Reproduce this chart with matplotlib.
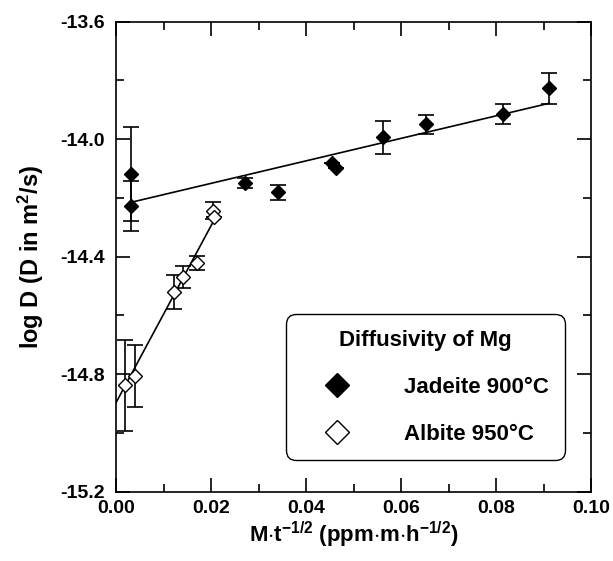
import numpy as np
import matplotlib
matplotlib.use("Agg")
import matplotlib.pyplot as plt
from matplotlib.lines import Line2D
from matplotlib.ticker import MultipleLocator, FormatStrFormatter

# Jadeite 900C (filled diamonds)
jad_x = [0.0032, 0.0032, 0.0272, 0.0340, 0.0454, 0.0463, 0.0563, 0.0653, 0.0815, 0.0912]
jad_y = [-14.119, -14.226, -14.150, -14.181, -14.082, -14.099, -13.994, -13.949, -13.914, -13.827]
jad_err = [0.160, 0.085, 0.017, 0.025, 0.0, 0.0, 0.057, 0.032, 0.035, 0.054]

# Albite 950C (open diamonds)
alb_x = [0.0019, 0.0039, 0.0122, 0.0140, 0.0171, 0.0204, 0.0206]
alb_y = [-14.838, -14.807, -14.520, -14.468, -14.422, -14.243, -14.264]
alb_err = [0.155, 0.105, 0.059, 0.037, 0.024, 0.030, 0.0]

# fitted lines: slope, intercept, x range
jad_fit = (3.83, -14.227, 0.0029, 0.0912)
alb_fit = (30.1, -14.897, 0.0, 0.0204)

plt.rcParams['font.family'] = ['Liberation Sans', 'DejaVu Sans']
plt.rcParams['font.weight'] = 'bold'
plt.rcParams['axes.unicode_minus'] = False
plt.rcParams['mathtext.fontset'] = 'custom'
plt.rcParams['mathtext.rm'] = 'Liberation Sans:bold'
plt.rcParams['mathtext.it'] = 'Liberation Sans:bold'
plt.rcParams['mathtext.bf'] = 'Liberation Sans:bold'

fig = plt.figure(figsize=(6.13, 5.61), dpi=100, facecolor='w')
ax = fig.add_axes([116/613, 69.3/561, 475/613, 470/561])

ax.errorbar(jad_x, jad_y, yerr=jad_err, fmt='none', ecolor='k',
            elinewidth=1.2, capsize=5.5, capthick=1.2, zorder=2)
ax.errorbar(alb_x, alb_y, yerr=alb_err, fmt='none', ecolor='k',
            elinewidth=1.2, capsize=5.5, capthick=1.2, zorder=2)

for fit in (jad_fit, alb_fit):
    xs = np.array([fit[2], fit[3]])
    ax.plot(xs, fit[0]*xs + fit[1], color='k', linewidth=1.2, zorder=3)

ax.plot(jad_x, jad_y, 'D', color='k', markersize=7.5, zorder=4)
ax.plot(alb_x, alb_y, 'D', markerfacecolor='w', markeredgecolor='k',
        markeredgewidth=1.0, markersize=7.5, zorder=4)

ax.set_xlim(0, 0.10)
ax.set_ylim(-15.2, -13.6)
ax.xaxis.set_major_locator(MultipleLocator(0.02))
ax.xaxis.set_minor_locator(MultipleLocator(0.01))
ax.yaxis.set_major_locator(MultipleLocator(0.4))
ax.yaxis.set_minor_locator(MultipleLocator(0.2))
ax.xaxis.set_major_formatter(FormatStrFormatter('%.2f'))
ax.yaxis.set_major_formatter(FormatStrFormatter('%.1f'))
ax.tick_params(which='both', direction='in', top=True, right=True, width=1.2)
ax.tick_params(which='major', length=10, labelsize=14)
ax.tick_params(which='minor', length=5.5)
ax.tick_params(axis='y', pad=8)
ax.tick_params(axis='x', pad=6)
for s in ax.spines.values():
    s.set_linewidth(1.2)

ax.set_xlabel(r'M$\cdot$t$^{-1/2}$ (ppm$\cdot$m$\cdot$h$^{-1/2}$)', fontsize=16,
              fontweight='bold', labelpad=2)
ax.set_ylabel(r'log D (D in m$^2$/s)', fontsize=17, fontweight='bold', labelpad=10)

handles = [Line2D([], [], linestyle='none', marker='D', color='k', markersize=12.5),
           Line2D([], [], linestyle='none', marker='D', markerfacecolor='w',
                  markeredgecolor='k', markeredgewidth=1.0, markersize=12.5)]
leg = ax.legend(handles, ['Jadeite 900°C', 'Albite 950°C'], title='Diffusivity of Mg',
                loc='lower left', bbox_to_anchor=(0.358, 0.067, 0.587, 0.314),
                mode='expand', prop={'size': 16, 'weight': 'bold'},
                title_fontproperties={'size': 16, 'weight': 'bold'},
                borderpad=0.7, labelspacing=1.17, handlelength=3.2,
                handletextpad=1.4, fancybox=True, framealpha=1, borderaxespad=0)
frame = leg.get_frame()
frame.set_edgecolor('k')
frame.set_linewidth(1.0)
frame.set_boxstyle('round,pad=0,rounding_size=0.45')

fig.savefig('out.png', dpi=100)
